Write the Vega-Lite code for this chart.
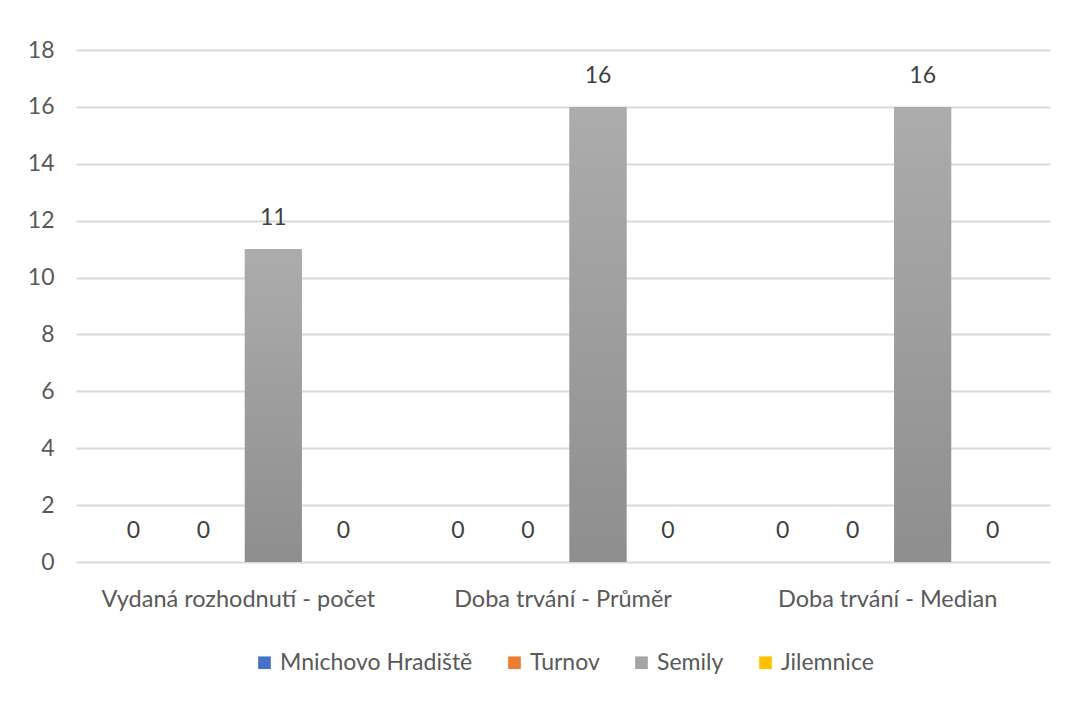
{
  "$schema": "https://vega.github.io/schema/vega-lite/v6.json",
  "width": 974,
  "height": 512,
  "autosize": "none",
  "padding": {"left": 76, "top": 50, "right": 17, "bottom": 142},
  "background": "white",
  "config": {
    "font": "Lato",
    "view": {"stroke": null},
    "axis": {"labelColor": "#595959", "labelFont": "Lato"},
    "legend": {
      "labelColor": "#595959",
      "labelFont": "Lato",
      "layout": {"bottom": {"anchor": "middle"}}
    }
  },
  "data": {
    "values": [
      {"kategorie": "Vydaná rozhodnutí - počet", "obec": "Mnichovo Hradiště", "hodnota": 0},
      {"kategorie": "Vydaná rozhodnutí - počet", "obec": "Turnov", "hodnota": 0},
      {"kategorie": "Vydaná rozhodnutí - počet", "obec": "Semily", "hodnota": 11},
      {"kategorie": "Vydaná rozhodnutí - počet", "obec": "Jilemnice", "hodnota": 0},
      {"kategorie": "Doba trvání - Průměr", "obec": "Mnichovo Hradiště", "hodnota": 0},
      {"kategorie": "Doba trvání - Průměr", "obec": "Turnov", "hodnota": 0},
      {"kategorie": "Doba trvání - Průměr", "obec": "Semily", "hodnota": 16},
      {"kategorie": "Doba trvání - Průměr", "obec": "Jilemnice", "hodnota": 0},
      {"kategorie": "Doba trvání - Median", "obec": "Mnichovo Hradiště", "hodnota": 0},
      {"kategorie": "Doba trvání - Median", "obec": "Turnov", "hodnota": 0},
      {"kategorie": "Doba trvání - Median", "obec": "Semily", "hodnota": 16},
      {"kategorie": "Doba trvání - Median", "obec": "Jilemnice", "hodnota": 0}
    ]
  },
  "encoding": {
    "x": {
      "field": "kategorie",
      "type": "nominal",
      "sort": null,
      "scale": {"paddingInner": 0, "paddingOuter": 0},
      "axis": {
        "title": null,
        "labelAngle": 0,
        "labelFontSize": 23.5,
        "labelPadding": 25,
        "labelLimit": 0,
        "ticks": false,
        "domain": false,
        "grid": false
      }
    },
    "xOffset": {
      "field": "obec",
      "type": "nominal",
      "sort": null,
      "scale": {
        "domain": ["Mnichovo Hradiště", "Turnov", "Semily", "Jilemnice"],
        "paddingInner": 0.186,
        "paddingOuter": 0.412
      }
    },
    "y": {
      "field": "hodnota",
      "type": "quantitative",
      "scale": {"domain": [0, 18], "nice": false},
      "axis": {
        "title": null,
        "values": [0, 2, 4, 6, 8, 10, 12, 14, 16, 18],
        "labelFontSize": 23,
        "labelPadding": 22,
        "ticks": false,
        "domain": false,
        "gridColor": "#d9d9d9",
        "gridWidth": 2
      }
    }
  },
  "layer": [
    {
      "mark": {"type": "bar"},
      "encoding": {
        "color": {
          "field": "obec",
          "type": "nominal",
          "sort": null,
          "scale": {
            "domain": ["Mnichovo Hradiště", "Turnov", "Semily", "Jilemnice"],
            "range": ["#4472c4", "#ed7d31", "#a5a5a5", "#ffc000"]
          },
          "legend": {
            "title": null,
            "orient": "bottom",
            "direction": "horizontal",
            "symbolType": "square",
            "symbolSize": 160,
            "labelFontSize": 23,
            "labelLimit": 0,
            "columnPadding": 30,
            "offset": 40
          }
        }
      }
    },
    {
      "transform": [{"filter": "datum.obec === 'Semily'"}],
      "mark": {
        "type": "bar",
        "fill": {
          "gradient": "linear",
          "x1": 0, "y1": 0, "x2": 0, "y2": 1,
          "stops": [
            {"offset": 0, "color": "#acacac"},
            {"offset": 1, "color": "#8e8e8e"}
          ]
        }
      }
    },
    {
      "mark": {
        "type": "text",
        "baseline": "middle",
        "dy": -31,
        "fontSize": 23,
        "color": "#404040"
      },
      "encoding": {
        "text": {"field": "hodnota", "type": "quantitative"}
      }
    }
  ]
}
